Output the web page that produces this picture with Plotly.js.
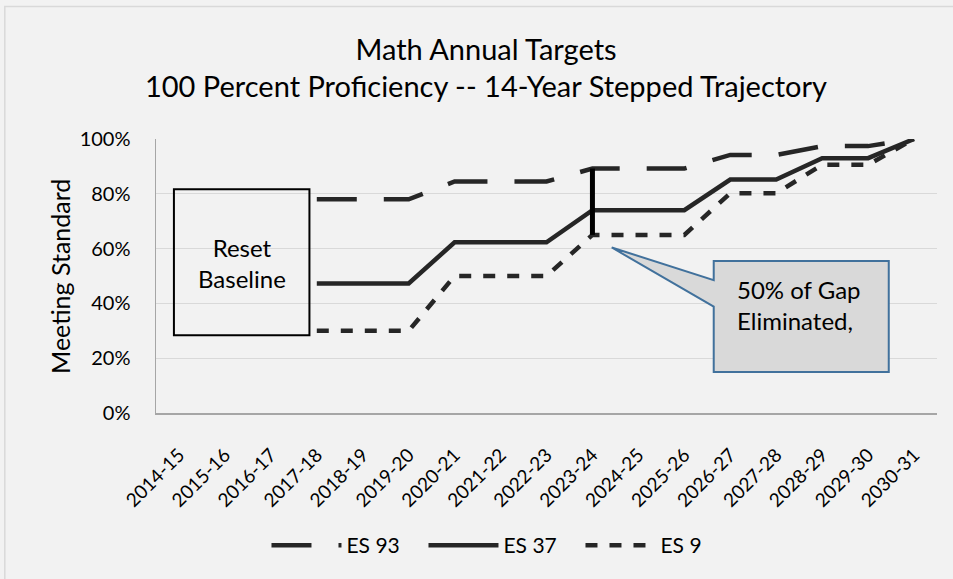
<!DOCTYPE html>
<html>
<head>
<meta charset="utf-8">
<script src="https://cdn.plot.ly/plotly-3.0.1.min.js"></script>
<style>
  html, body { margin: 0; padding: 0; background: #f2f2f2; }
  #PlotDiv { width: 953px; height: 579px; }
</style>
</head>
<body>
<div id="PlotDiv"></div>
<script>
var years = ['2014-15', '2015-16', '2016-17', '2017-18', '2018-19', '2019-20',
  '2020-21', '2021-22', '2022-23', '2023-24', '2024-25', '2025-26',
  '2026-27', '2027-28', '2028-29', '2029-30', '2030-31'];
// percent meeting standard, no targets before the reset baseline
var es93 = [null, null, null, 78, 78, 78, 84.5, 84.5, 84.5, 89.2, 89.2, 89.2, 94.2, 94.2, 97.4, 97.4, 100];
var es37 = [null, null, null, 47.3, 47.3, 47.3, 62.3, 62.3, 62.3, 74, 74, 74, 85.2, 85.2, 93, 93, 100];
var es9 = [null, null, null, 30, 30, 30, 50, 50, 50, 65, 65, 65, 80.2, 80.2, 90.6, 90.6, 100];
var yTicks = [0, 20, 40, 60, 80, 100];
var gapYear = 9;  // 2023-24, half of the gap closed

var xIdx = years.map(function (y, i) { return i; });
var FONT = 'Lato, "Liberation Sans", sans-serif';
var INK = '#262626';

var plotdata = [
  {
    type: 'scatter', mode: 'lines', name: 'ES 93',
    x: xIdx, y: es93,
    line: { color: INK, width: 4.5, dash: '40px,27px' }
  },
  {
    type: 'scatter', mode: 'lines', name: 'ES 37',
    x: xIdx, y: es37,
    line: { color: INK, width: 4.5 }
  },
  {
    type: 'scatter', mode: 'lines', name: 'ES 9',
    x: xIdx, y: es9,
    line: { color: INK, width: 4.5, dash: '12px,12px' }
  }
];

var layout = {
  width: 953,
  height: 579,
  paper_bgcolor: '#f2f2f2',
  plot_bgcolor: '#f2f2f2',
  margin: { l: 156, r: 16, t: 139, b: 166 },
  font: { family: FONT, size: 20, color: '#000' },
  title: {
    text: 'Math Annual Targets<br>100 Percent Proficiency -- 14-Year Stepped Trajectory',
    font: { family: FONT, size: 29, color: '#000' },
    xref: 'container', x: 0.51, xanchor: 'center',
    yref: 'container', y: 0.897, yanchor: 'top'
  },
  xaxis: {
    range: [-0.5, 16.5],
    tickvals: xIdx,
    ticktext: years,
    tickangle: -45,
    showgrid: false,
    zeroline: false,
    showline: true,
    linecolor: '#a6a6a6',
    linewidth: 1.5,
    ticks: '',
    ticklabelstandoff: 22,
    tickfont: { family: FONT, size: 19 }
  },
  yaxis: {
    range: [0, 100],
    tickvals: yTicks,
    ticktext: yTicks.map(function (v) { return v + '%'; }),
    showgrid: true,
    gridcolor: '#d9d9d9',
    gridwidth: 1.2,
    zeroline: false,
    showline: true,
    linecolor: '#a6a6a6',
    linewidth: 1.5,
    ticks: '',
    ticklabelstandoff: 20,
    tickfont: { family: FONT, size: 20 }
  },
  showlegend: true,
  legend: {
    orientation: 'h',
    x: 0.443, xanchor: 'center',
    y: -0.484, yanchor: 'middle',
    itemwidth: 70,
    entrywidth: 72,
    font: { family: FONT, size: 21 },
    bgcolor: 'rgba(0,0,0,0)'
  },
  shapes: [
    // chart frame
    {
      type: 'rect', xref: 'paper', yref: 'paper', layer: 'below',
      x0: -0.1936, x1: 1.5, y0: -1.5, y1: 1.484,
      line: { color: '#d9d9d9', width: 1.5 }
    },
    // reset baseline box
    {
      type: 'rect', xref: 'x', yref: 'y',
      x0: -0.11, x1: 2.84, y0: 28.4, y1: 81.7,
      line: { color: '#000', width: 2 }
    },
    // callout with pointer
    {
      type: 'path', xref: 'x', yref: 'y', layer: 'above',
      path: 'M 11.64,55.5 L 15.45,55.5 L 15.45,15 L 11.64,15 L 11.64,38.8 L 9.42,60.4 L 11.64,48.5 Z',
      fillcolor: '#d9d9d9',
      line: { color: '#41719c', width: 2 }
    },
    // gap bar at 2023-24
    {
      type: 'line', xref: 'x', yref: 'y', layer: 'above',
      x0: gapYear, x1: gapYear, y0: es9[gapYear], y1: es93[gapYear],
      line: { color: '#000', width: 5 }
    }
  ],
  annotations: [
    {
      text: 'Meeting Standard', textangle: -90,
      xref: 'paper', yref: 'paper', x: -0.123, y: 0.5,
      xanchor: 'center', yanchor: 'middle', showarrow: false,
      font: { family: FONT, size: 25, color: '#000' }
    },
    {
      text: 'Reset<br>Baseline',
      xref: 'x', yref: 'y', x: 1.37, y: 54.7,
      xanchor: 'center', yanchor: 'middle', showarrow: false,
      font: { family: FONT, size: 24, color: '#000' }
    },
    {
      text: '50% of Gap<br>Eliminated,', align: 'left',
      xref: 'x', yref: 'y', x: 12.1, y: 39.4,
      xanchor: 'left', yanchor: 'middle', showarrow: false,
      font: { family: FONT, size: 24, color: '#000' }
    }
  ]
};

Plotly.newPlot('PlotDiv', plotdata, layout, { staticPlot: true });
</script>
</body>
</html>
